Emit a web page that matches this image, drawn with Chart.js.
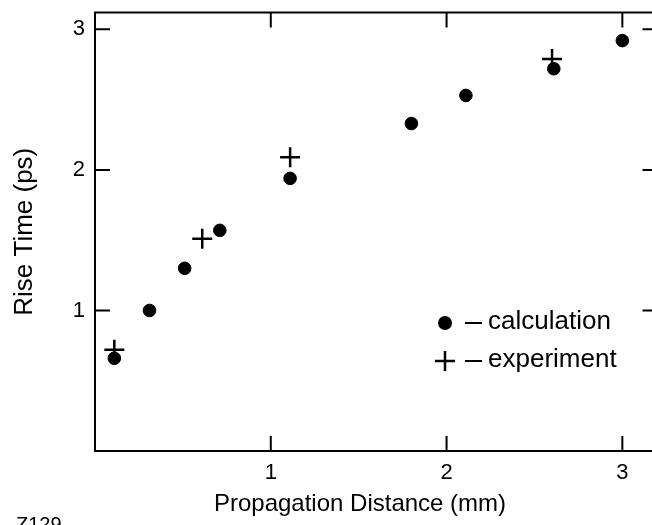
<!DOCTYPE html>
<html>
<head>
<meta charset="utf-8">
<script src="https://cdn.jsdelivr.net/npm/chart.js@4"></script>
<style>
  html, body { margin: 0; padding: 0; background: #fff; overflow: hidden; }
  #wrap { width: 670px; height: 525px; }
</style>
</head>
<body>
<div id="wrap"><canvas id="riseChart" width="670" height="525"></canvas></div>
<script>
// Rise time vs propagation distance
const calcX = [0.11, 0.31, 0.51, 0.71, 1.11, 1.80, 2.11, 2.61, 3.00];
const calcY = [0.66, 1.00, 1.30, 1.57, 1.94, 2.33, 2.53, 2.72, 2.92];
const expX = [0.11, 0.61, 1.11, 2.60];
const expY = [0.72, 1.51, 2.09, 2.79];
const tickVals = [1, 2, 3];
const legendLabels = ['calculation', 'experiment'];
const xTitle = 'Propagation Distance (mm)';
const yTitle = 'Rise Time (ps)';
const figId = 'Z129';

const FONT = '"Liberation Sans", Arial, Helvetica, sans-serif';

const toPts = (xs, ys) => xs.map((x, i) => ({ x, y: ys[i] }));

// frame, inward ticks on all four sides, in-plot legend, x title
const framePlugin = {
    id: 'frame',
    afterDraw(chart) {
        const { ctx, chartArea: a, scales } = chart;
        const len = 15;
        ctx.save();
        ctx.strokeStyle = '#000';
        ctx.lineWidth = 2;
        ctx.strokeRect(a.left, a.top, a.right - a.left, a.bottom - a.top);
        ctx.beginPath();
        tickVals.forEach(v => {
            const px = scales.x.getPixelForValue(v);
            ctx.moveTo(px, a.bottom); ctx.lineTo(px, a.bottom - len);
            ctx.moveTo(px, a.top); ctx.lineTo(px, a.top + len);
            const py = scales.y.getPixelForValue(v);
            ctx.moveTo(a.left, py); ctx.lineTo(a.left + len, py);
            ctx.moveTo(a.right, py); ctx.lineTo(a.right - len, py);
        });
        ctx.stroke();

        // legend
        const lx = 445, rows = [323, 361];
        ctx.fillStyle = '#000';
        ctx.beginPath();
        ctx.arc(lx, rows[0], 7, 0, Math.PI * 2);
        ctx.fill();
        ctx.lineWidth = 2.5;
        ctx.beginPath();
        ctx.moveTo(lx - 10, rows[1]); ctx.lineTo(lx + 10, rows[1]);
        ctx.moveTo(lx, rows[1] - 10); ctx.lineTo(lx, rows[1] + 10);
        ctx.stroke();
        ctx.lineWidth = 2;
        ctx.beginPath();
        rows.forEach(r => { ctx.moveTo(465, r); ctx.lineTo(482, r); });
        ctx.stroke();
        ctx.font = '26px ' + FONT;
        ctx.textBaseline = 'middle';
        ctx.textAlign = 'left';
        legendLabels.forEach((t, i) => ctx.fillText(t, 488, rows[i] - 1));

        // x axis title, sits left of the plot centre in the original
        ctx.font = '24px ' + FONT;
        ctx.textAlign = 'center';
        ctx.fillText(xTitle, 360, 504);

        ctx.font = '20px ' + FONT;
        ctx.textAlign = 'left';
        ctx.textBaseline = 'alphabetic';
        ctx.fillText(figId, 16, 531);
        ctx.restore();
    }
};

new Chart(document.getElementById('riseChart'), {
    type: 'scatter',
    data: {
        datasets: [
            { label: legendLabels[0], data: toPts(calcX, calcY), pointStyle: 'circle',
              pointRadius: 6.3, borderWidth: 1, backgroundColor: '#000', borderColor: '#000' },
            { label: legendLabels[1], data: toPts(expX, expY), pointStyle: 'cross',
              pointRadius: 10, borderWidth: 2.5, borderColor: '#000', backgroundColor: '#000' },
        ]
    },
    options: {
        responsive: false,
        animation: false,
        layout: { padding: { top: 12, right: 12, left: 0, bottom: 0 } },
        plugins: { legend: { display: false }, tooltip: { enabled: false } },
        scales: {
            x: {
                type: 'linear', min: 0, max: 3.2,
                afterFit: (s) => { s.height = 74; s.paddingLeft = 0; s.paddingRight = 0; },
                grid: { display: false, drawTicks: false },
                border: { display: false },
                ticks: {
                    stepSize: 1, includeBounds: false, padding: 9, color: '#000',
                    font: { family: FONT, size: 22 },
                    callback: (v) => tickVals.includes(v) ? String(v) : '',
                },
            },
            y: {
                type: 'linear', min: 0, max: 3.12,
                afterFit: (s) => { s.width = 95; s.paddingTop = 0; s.paddingBottom = 0; },
                grid: { display: false, drawTicks: false },
                border: { display: false },
                ticks: {
                    stepSize: 1, includeBounds: false, padding: 10, color: '#000',
                    font: { family: FONT, size: 22 },
                    callback: (v) => tickVals.includes(v) ? String(v) : '',
                },
                title: { display: true, text: yTitle, color: '#000',
                         font: { family: FONT, size: 26 }, padding: { top: 9, bottom: 0 } },
            },
        },
    },
    plugins: [framePlugin],
});
</script>
</body>
</html>
